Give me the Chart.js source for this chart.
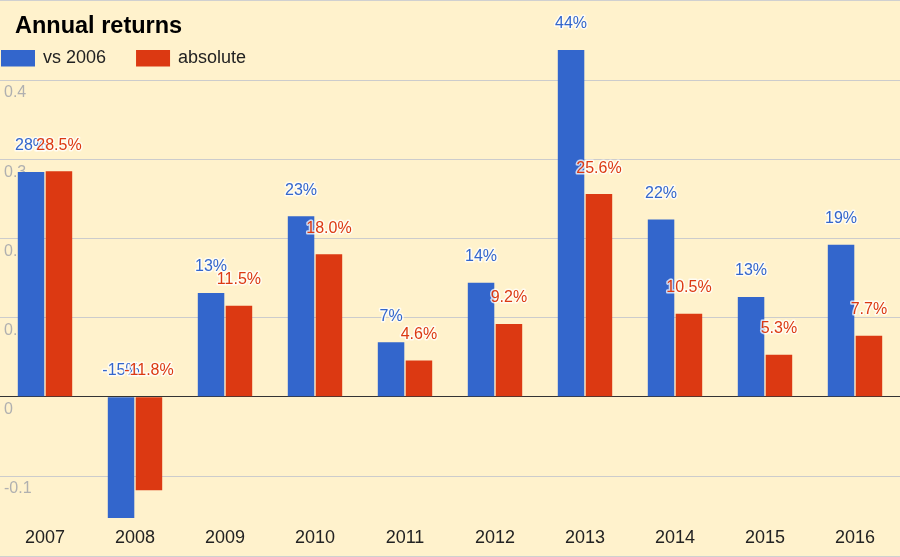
<!DOCTYPE html>
<html>
<head>
<meta charset="utf-8">
<title>Annual returns</title>
<script src="https://cdn.jsdelivr.net/npm/chart.js@4/dist/chart.umd.min.js"></script>
<style>
  html, body { margin: 0; padding: 0; background: #fff2cc; }
  #wrap { width: 900px; height: 557px; position: relative; }
</style>
</head>
<body>
<div id="wrap"><canvas id="returnsChart"></canvas></div>
<script>
// Data
const chartTitle = 'Annual returns';
const years = ['2007', '2008', '2009', '2010', '2011', '2012', '2013', '2014', '2015', '2016'];
const seriesNames = ['vs 2006', 'absolute'];
const vs2006 = [0.284, -0.153, 0.131, 0.228, 0.069, 0.144, 0.438, 0.224, 0.126, 0.192];
const absolute = [0.285, -0.118, 0.115, 0.180, 0.046, 0.092, 0.256, 0.105, 0.053, 0.077];
const yTicks = [-0.1, 0, 0.1, 0.2, 0.3, 0.4];

const BLUE = '#3366cc';
const RED = '#dc3912';
const FONT = 'Arial, "Liberation Sans", sans-serif';

// label text for each series
const formatters = [
  (v) => Math.round(v * 100) + '%',
  (v) => (v * 100).toFixed(1) + '%',
];

// Title, legend and bar annotations, Google-chart style
const annotatePlugin = {
  id: 'annotate',
  beforeDraw(chart) {
    const ctx = chart.ctx;
    ctx.save();
    ctx.fillStyle = '#fff2cc';
    ctx.fillRect(0, 0, chart.width, chart.height);
    ctx.strokeStyle = '#d0d0d0';
    ctx.lineWidth = 1;
    ctx.beginPath();
    ctx.moveTo(0, 0.5); ctx.lineTo(chart.width, 0.5);
    ctx.moveTo(0, chart.height - 0.5); ctx.lineTo(chart.width, chart.height - 0.5);
    ctx.stroke();
    ctx.restore();
  },
  afterDatasetsDraw(chart) {
    const ctx = chart.ctx;
    const yScale = chart.scales.y;
    ctx.save();
    ctx.font = '16px ' + FONT;
    ctx.textAlign = 'center';
    ctx.textBaseline = 'middle';
    ctx.lineJoin = 'round';
    chart.data.datasets.forEach((ds, di) => {
      const meta = chart.getDatasetMeta(di);
      meta.data.forEach((bar, i) => {
        const v = ds.data[i];
        const top = yScale.getPixelForValue(Math.max(v, 0));
        const text = formatters[di](v);
        const y = top - 26;
        ctx.strokeStyle = 'rgba(255,255,255,0.75)';
        ctx.lineWidth = 3;
        ctx.strokeText(text, bar.x, y);
        ctx.fillStyle = ds.backgroundColor;
        ctx.fillText(text, bar.x, y);
      });
    });
    ctx.restore();
  },
  afterDraw(chart) {
    const ctx = chart.ctx;
    ctx.save();
    // title
    ctx.font = 'bold 23.5px ' + FONT;
    ctx.fillStyle = '#000';
    ctx.textAlign = 'left';
    ctx.textBaseline = 'middle';
    ctx.fillText(chartTitle, 15, 27);
    // legend
    ctx.font = '18px ' + FONT;
    let x = 1;
    chart.data.datasets.forEach((ds) => {
      ctx.fillStyle = ds.backgroundColor;
      ctx.fillRect(x, 50, 34, 16.5);
      ctx.fillStyle = '#222';
      ctx.fillText(ds.label, x + 42, 58.5);
      x += 42 + ctx.measureText(ds.label).width + 30;
    });
    ctx.restore();
  },
};

const ctx = document.getElementById('returnsChart').getContext('2d');
new Chart(ctx, {
  type: 'bar',
  data: {
    labels: years,
    datasets: [
      { label: seriesNames[0], data: vs2006, backgroundColor: BLUE },
      { label: seriesNames[1], data: absolute, backgroundColor: RED },
    ],
  },
  options: {
    responsive: true,
    maintainAspectRatio: false,
    animation: false,
    categoryPercentage: 0.62,
    barPercentage: 0.95,
    layout: { padding: { top: 46, bottom: 0, left: 0, right: 0 } },
    plugins: {
      legend: { display: false },
      title: { display: false },
      tooltip: { enabled: false },
    },
    scales: {
      x: {
        grid: { display: false, drawTicks: false },
        border: { display: false },
        afterFit: (axis) => {
          axis.height = 39;
        },
        ticks: {
          color: '#222',
          padding: 9,
          font: { size: 18, family: FONT },
        },
      },
      y: {
        min: -0.153,
        max: 0.443,
        afterBuildTicks: (axis) => {
          axis.ticks = yTicks.map((v) => ({ value: v }));
        },
        afterFit: (axis) => {
          axis.width = 0;
        },
        border: { display: false },
        grid: {
          drawTicks: false,
          color: (c) => (c.tick && c.tick.value === 0 ? '#333333' : '#cccccc'),
          lineWidth: 1,
        },
        ticks: {
          mirror: true,
          padding: 4,
          labelOffset: 13,
          color: '#b0b0b0',
          font: { size: 16, family: FONT },
          callback: (v) => String(v),
        },
      },
    },
  },
  plugins: [annotatePlugin],
});
</script>
</body>
</html>
